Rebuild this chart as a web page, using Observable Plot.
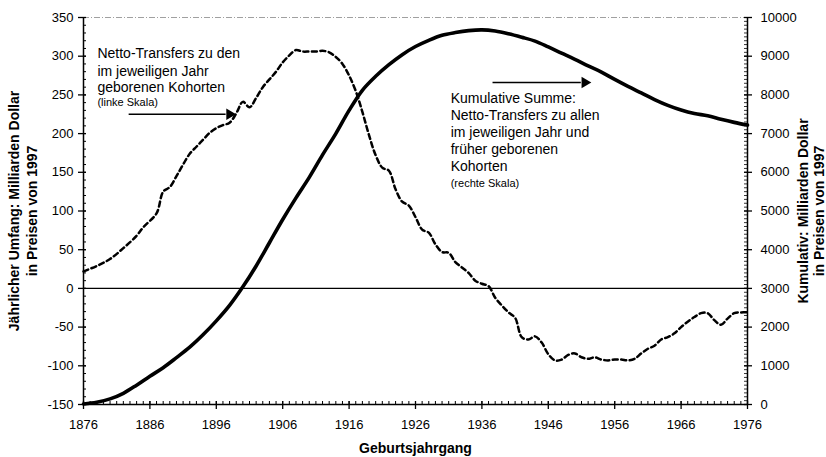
<!DOCTYPE html>
<html><head><meta charset="utf-8">
<script src="https://cdn.jsdelivr.net/npm/d3@7"></script>
<script src="https://cdn.jsdelivr.net/npm/@observablehq/plot@0.6"></script>
<style>body{margin:0;background:#fff} svg{display:block}</style>
</head><body><div id="chart"></div>
<script>
// Annual net transfers (left scale, billions of 1997 dollars)
const annualYears = [1876,1878,1880,1882,1884,1885,1887,1888,1889,1890,1891,1892,1893,1894,1895,1896,1897,1898,1899,1900,1901,1902,1903,1904,1905,1906,1907,1908,1909,1910,1911,1912,1913,1914,1915,1916,1917,1918,1919,1920,1921,1922,1923,1924,1925,1926,1927,1928,1929,1930,1931,1932,1933,1934,1935,1936,1937,1938,1939,1940,1941,1942,1943,1944,1945,1946,1947,1948,1949,1950,1951,1952,1953,1954,1955,1956,1957,1958,1959,1960,1961,1962,1963,1964,1965,1966,1967,1968,1969,1970,1971,1972,1973,1974,1975,1976];
const annualValues = [22,29,38,52,68,79,97,125,131,145,160,174,183,192,201,207,211,214,226,241,234,246,260,270,280,292,301,308,306,306,306,307,305,299,290,275,255,228,198,172,156,152,128,112,107,92,76,72,57,47,46,34,27,20,10,6,3,-12,-22,-31,-38,-63,-66,-62,-70,-85,-93,-92,-86,-84,-89,-91,-89,-92,-93,-92,-92,-93,-91,-84,-78,-74,-66,-63,-58,-50,-43,-37,-32,-32,-41,-47,-39,-32,-31,-31];

// Cumulative sum (right scale)
const cumYears = [1876,1878,1880,1882,1884,1886,1888,1890,1892,1894,1896,1898,1900,1902,1904,1906,1908,1910,1912,1914,1916,1918,1920,1922,1924,1926,1928,1930,1932,1934,1936,1938,1940,1942,1944,1946,1948,1950,1952,1954,1956,1958,1960,1962,1964,1966,1968,1970,1972,1974,1976];
const cumValues = [15,60,145,290,500,730,950,1210,1480,1800,2160,2560,3040,3580,4180,4780,5340,5870,6450,7000,7600,8120,8480,8780,9040,9250,9410,9540,9610,9660,9680,9650,9580,9490,9390,9240,9080,8920,8750,8590,8400,8220,8050,7880,7730,7610,7520,7460,7370,7290,7220];

const xTicks = [1876,1886,1896,1906,1916,1926,1936,1946,1956,1966,1976];
const leftTicks = [-150,-100,-50,0,50,100,150,200,250,300,350];
const rightTicks = [0,1000,2000,3000,4000,5000,6000,7000,8000,9000,10000];

const xTitle = "Geburtsjahrgang";
const leftTitle = ["Jährlicher Umfang: Milliarden Dollar", "in Preisen von 1997"];
const rightTitle = ["Kumulativ: Milliarden Dollar", "in Preisen von 1997"];

const note1 = ["Netto-Transfers zu den", "im jeweiligen Jahr", "geborenen Kohorten"];
const note1Small = "(linke Skala)";
const note2 = ["Kumulative Summe:", "Netto-Transfers zu allen", "im jeweiligen Jahr und", "früher geborenen", "Kohorten"];
const note2Small = "(rechte Skala)";

// annotation anchors in data units (year, left-scale value)
const note1Pos = {x: 1878.1, ys: [303.6, 280.8, 259.7], ySmall: 240};
const note2Pos = {x: 1931.3, ys: [245.5, 223.5, 201.0, 179.6, 157.6], ySmall: 136};
const arrows = [
  {x1: 1882.8, x2: 1898.6, y: 225},
  {x1: 1937.6, x2: 1952.1, y: 266}
];

const W = 826, H = 457;
const mT = 17, mB = 53, mL = 83, mR = 79;
const fW = W - mL - mR, fH = H - mT - mB;

const leftDomain = [-150, 350];
const rightDomain = [0, 10000];
const toLeft = d3.scaleLinear().domain(rightDomain).range(leftDomain);
const toRight = toLeft.invert;

const annual = annualYears.map((y, i) => ({year: y, value: annualValues[i]}));
const cum = cumYears.map((y, i) => ({year: y, value: cumValues[i]}));

const xMinor = d3.range(xTicks[0], xTicks[xTicks.length - 1] + 1, 1);
const leftMinor = d3.range(leftDomain[0], leftDomain[1] + 1, 10);
const rightMinor = d3.range(rightDomain[0], rightDomain[1] + 1, 100).map(toLeft);
const rightMajor = rightTicks.map(toLeft);

const noteLines1 = note1.map((t, i) => ({x: note1Pos.x, y: note1Pos.ys[i], text: t}));
const noteLines2 = note2.map((t, i) => ({x: note2Pos.x, y: note2Pos.ys[i], text: t}));
const smallNotes = [
  {x: note1Pos.x, y: note1Pos.ySmall, text: note1Small},
  {x: note2Pos.x, y: note2Pos.ySmall, text: note2Small}
];

const font = "'Liberation Sans', Arial, Helvetica, sans-serif";
const titleOpts = {text: d => d, rotate: -90, textAnchor: "middle", lineAnchor: "middle", fontWeight: "bold", fontSize: 14, fill: "#000"};

const chart = Plot.plot({
  width: W, height: H,
  marginTop: mT, marginBottom: mB, marginLeft: mL, marginRight: mR,
  style: {fontFamily: font, fontSize: "13px", background: "#fff", color: "#000", overflow: "visible"},
  x: {domain: [xTicks[0], xTicks[xTicks.length - 1]]},
  y: {domain: leftDomain},
  marks: [
    // top faint border
    Plot.ruleY([leftDomain[1]], {stroke: "#888", strokeWidth: 0.8, strokeDasharray: "6,2,1,2"}),
    // zero line
    Plot.ruleY([0], {stroke: "#000", strokeWidth: 1.3}),
    // frame lines
    Plot.ruleY([leftDomain[0]], {stroke: "#000", strokeWidth: 1.5}),
    Plot.ruleX([xTicks[0], xTicks[xTicks.length - 1]], {stroke: "#000", strokeWidth: 1.5}),
    // x ticks
    Plot.ruleX(xMinor, {x: d => d, insetTop: fH - 3, insetBottom: -1, stroke: "#000", strokeWidth: 1}),
    Plot.ruleX(xTicks, {x: d => d, insetTop: fH - 3, insetBottom: -5, stroke: "#000", strokeWidth: 1.3}),
    // left ticks
    Plot.ruleY(leftMinor, {y: d => d, insetLeft: 0, insetRight: fW - 3, stroke: "#000", strokeWidth: 1}),
    Plot.ruleY(leftTicks, {y: d => d, insetLeft: -5, insetRight: fW - 3, stroke: "#000", strokeWidth: 1.3}),
    // right ticks
    Plot.ruleY(rightMinor, {y: d => d, insetLeft: fW - 3, insetRight: 0, stroke: "#000", strokeWidth: 0.8}),
    Plot.ruleY(rightMajor, {y: d => d, insetLeft: fW - 3, insetRight: -5, stroke: "#000", strokeWidth: 1.3}),
    // axes (labels only)
    Plot.axisX(xTicks, {tickSize: 0, tickPadding: 15, tickFormat: d => String(d), label: null}),
    Plot.axisY(leftTicks, {anchor: "left", tickSize: 0, tickPadding: 10, tickFormat: d => String(d), label: null}),
    Plot.axisY(rightMajor, {anchor: "right", tickSize: 0, tickPadding: 13, tickFormat: d => String(Math.round(toRight(d))), label: null}),
    // data
    Plot.line(annual, {x: "year", y: "value", stroke: "#000", strokeWidth: 2.5, strokeDasharray: "5,3.5", curve: "catmull-rom"}),
    Plot.line(cum, {x: "year", y: d => toLeft(d.value), stroke: "#000", strokeWidth: 3.6, curve: "catmull-rom"}),
    // annotations
    Plot.text(noteLines1, {x: "x", y: "y", text: "text", textAnchor: "start", fontSize: 14, fill: "#000"}),
    Plot.text(noteLines2, {x: "x", y: "y", text: "text", textAnchor: "start", fontSize: 14, fill: "#000"}),
    Plot.text(smallNotes, {x: "x", y: "y", text: "text", textAnchor: "start", fontSize: 11, fill: "#000"}),
    Plot.link(arrows, {x1: "x1", x2: d => d.x2 - 1.2, y1: "y", y2: "y", stroke: "#000", strokeWidth: 1.4}),
    Plot.dot(arrows, {x: "x2", y: "y", symbol: "triangle", rotate: 90, r: 4.2, fill: "#000", stroke: "none", dx: -4}),
    // titles
    Plot.text([xTitle], {text: d => d, frameAnchor: "bottom", lineAnchor: "middle", dy: 44, fontWeight: "bold", fontSize: 14, fill: "#000"}),
    Plot.text([leftTitle[0]], {...titleOpts, frameAnchor: "left", dx: 14 - mL}),
    Plot.text([leftTitle[1]], {...titleOpts, frameAnchor: "left", dx: 32 - mL}),
    Plot.text([rightTitle[0]], {...titleOpts, frameAnchor: "right", dx: 803 - (W - mR)}),
    Plot.text([rightTitle[1]], {...titleOpts, frameAnchor: "right", dx: 819 - (W - mR)})
  ]
});
document.getElementById("chart").appendChild(chart);
</script>
</body></html>
